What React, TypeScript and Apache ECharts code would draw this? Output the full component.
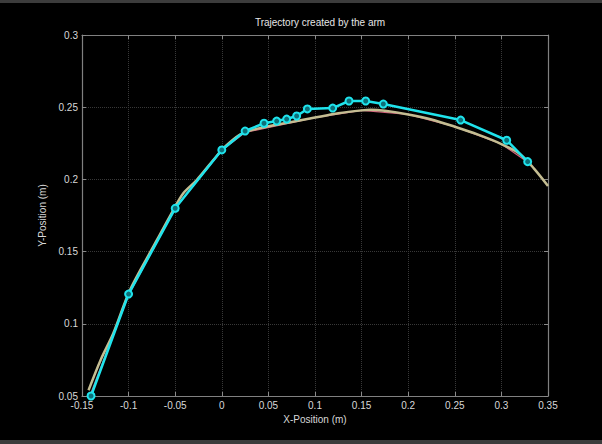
import React, { useEffect, useRef } from "react";
import * as echarts from "echarts";

const xTicks = [-0.15, -0.1, -0.05, 0, 0.05, 0.1, 0.15, 0.2, 0.25, 0.3, 0.35];
const yTicks = [0.05, 0.1, 0.15, 0.2, 0.25, 0.3];

// desired (smooth) trajectory, khaki
const desiredX = [-0.143, -0.13, -0.1164, -0.0985, -0.0735, -0.052, -0.0413, -0.0269, -0.0091, 0, 0.01, 0.02, 0.03, 0.05, 0.075, 0.1, 0.125, 0.15, 0.16, 0.175, 0.2, 0.225, 0.25, 0.275, 0.3, 0.32, 0.335, 0.35];
const desiredY = [0.054, 0.075, 0.0934, 0.1234, 0.1534, 0.1788, 0.1904, 0.1996, 0.2134, 0.2205, 0.2265, 0.2312, 0.2338, 0.2368, 0.2398, 0.2428, 0.2458, 0.2478, 0.2482, 0.2475, 0.245, 0.2415, 0.2365, 0.231, 0.2245, 0.2175, 0.2075, 0.1955];

// actual path, thin pink
const actualX = [-0.141, -0.1, -0.05, 0, 0.025, 0.1, 0.15, 0.2, 0.25, 0.3, 0.328];
const actualY = [0.051, 0.12, 0.18, 0.2202, 0.2325, 0.2428, 0.2478, 0.245, 0.2365, 0.2245, 0.212];

// via points, cyan
const pointX = [-0.1403, -0.1, -0.05, 0, 0.025, 0.0453, 0.0589, 0.0696, 0.0803, 0.0918, 0.119, 0.1365, 0.1544, 0.1733, 0.2563, 0.3057, 0.3282];
const pointY = [0.05, 0.1206, 0.18, 0.2204, 0.2335, 0.2389, 0.2404, 0.2418, 0.2439, 0.2488, 0.2494, 0.2543, 0.2543, 0.2522, 0.2411, 0.2271, 0.2123];

const FONT = "Liberation Sans";

export default function App() {
  const ref = useRef<HTMLDivElement>(null);
  useEffect(() => {
    if (!ref.current) return;
    const chart = echarts.init(ref.current, undefined, { renderer: "svg" });
    const fmt = (v: number) => String(Math.round(v * 100) / 100);
    const axisCommon = {
      type: "value" as const,
      interval: 0.05,
      axisLine: { show: true, onZero: false, lineStyle: { color: "#808080", width: 1.2 } },
      axisTick: { show: true, inside: true, length: 4, lineStyle: { color: "#8a8a8a" } },
    };
    const grid = { show: true, lineStyle: { color: "#383838", type: [1, 1], width: 1 } };
    chart.setOption({
      animation: false,
      backgroundColor: "#000",
      title: {
        text: "Trajectory created by the arm",
        left: 315,
        top: 12,
        textAlign: "center",
        textStyle: { color: "#e6e6e6", fontSize: 10, fontWeight: "normal", fontFamily: FONT },
      },
      graphic: [
        { type: "rect", shape: { x: 0, y: 0, width: 602, height: 3 }, style: { fill: "#3c3c3c" } },
        { type: "rect", shape: { x: 0, y: 440, width: 602, height: 4 }, style: { fill: "#3c3c3c" } },
      ],
      grid: { left: 82, right: 54, top: 35, bottom: 48, containLabel: false },
      xAxis: [
        {
          ...axisCommon,
          min: -0.15,
          max: 0.35,
          position: "bottom",
          name: "X-Position (m)",
          nameLocation: "middle",
          nameGap: 16,
          nameTextStyle: { color: "#d8d8d8", fontSize: 10, fontFamily: FONT },
          axisLabel: { color: "#d8d8d8", fontSize: 10, fontFamily: FONT, margin: 4, formatter: fmt },
          splitLine: grid,
        },
        {
          ...axisCommon,
          min: -0.15,
          max: 0.35,
          position: "top",
          axisLabel: { show: false },
          splitLine: { show: false },
        },
      ],
      yAxis: [
        {
          ...axisCommon,
          min: 0.05,
          max: 0.3,
          position: "left",
          name: "Y-Position (m)",
          nameLocation: "middle",
          nameGap: 30,
          nameTextStyle: { color: "#d8d8d8", fontSize: 10, fontFamily: FONT },
          axisLabel: { color: "#d8d8d8", fontSize: 10, fontFamily: FONT, margin: 4, formatter: fmt },
          splitLine: grid,
        },
        {
          ...axisCommon,
          min: 0.05,
          max: 0.3,
          position: "right",
          axisLabel: { show: false },
          splitLine: { show: false },
        },
      ],
      series: [
        {
          type: "line",
          data: actualX.map((x, i) => [x, actualY[i]]),
          showSymbol: false,
          lineStyle: { color: "#d0607a", width: 1.2 },
          z: 2,
        },
        {
          type: "line",
          data: desiredX.map((x, i) => [x, desiredY[i]]),
          showSymbol: false,
          smooth: 0.3,
          lineStyle: { color: "#c4bd92", width: 2.5 },
          z: 3,
        },
        {
          type: "line",
          data: pointX.map((x, i) => [x, pointY[i]]),
          symbol: "circle",
          symbolSize: 7,
          lineStyle: { color: "#1fe3ec", width: 2.5 },
          itemStyle: { color: "#0d6f78", borderColor: "#1fe3ec", borderWidth: 2 },
          z: 4,
        },
      ],
    });
    return () => chart.dispose();
  }, []);
  return (
    <div style={{ position: "fixed", left: 0, top: 0, width: 602, height: 444, background: "#000" }}>
      <div ref={ref} style={{ width: 602, height: 444 }} />
    </div>
  );
}
